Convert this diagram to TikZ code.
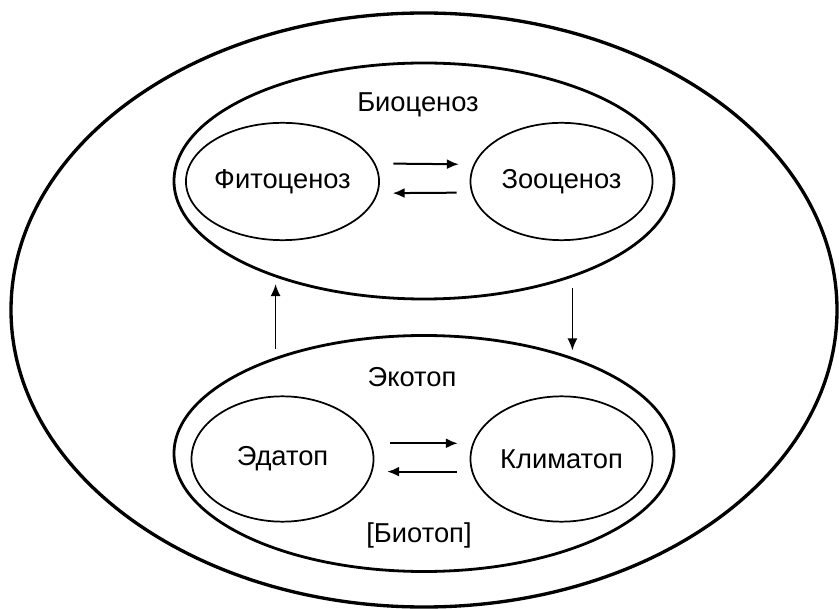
\documentclass[tikz,border=0pt]{standalone}
\usepackage{fontspec}
\setmainfont{Liberation Sans}
\usetikzlibrary{shapes.geometric,arrows.meta}
\tikzset{
  zone/.style={draw,ellipse,line width=2.1pt,inner sep=0pt,minimum width=375pt,minimum height=177pt},
  part/.style={draw,ellipse,line width=1.3pt,inner sep=0pt,minimum width=136.5pt},
  flow/.style={-{Latex[length=9pt,width=7.5pt]},line width=1.5pt},
}

\begin{document}
\begin{tikzpicture}[x=0.75pt,y=-0.75pt,font=\fontsize{20.5}{24}\selectfont]
  \useasboundingbox (0,0) rectangle (839,609);
  \node[draw,ellipse,line width=2.5pt,inner sep=0pt,minimum width=619.5pt,minimum height=445.5pt] (geo) at (424,310) {};

  \node[zone] (bio) at (424,181) {};
  \node (biolbl) at (418,105) {Биоценоз};
  \node[part,minimum height=88pt] (phyto) at (282.5,181.5) {Фитоценоз};
  \node[part,minimum height=88pt] (zoo) at (561.5,181.5) {Зооценоз};
  \draw[flow,shorten <=13.5pt,shorten >=11pt] (phyto.11) -- (zoo.169);
  \draw[flow,shorten <=11pt,shorten >=11pt] (zoo.187) -- (phyto.-7);

  \node[zone] (topo) at (424,453.5) {};
  \node (ecolbl) at (412,377) {Экотоп};
  \node[part,minimum height=94pt] (edaph) at (282.5,459) {Эдатоп};
  \node[part,minimum height=94pt] (clim) at (561.5,459) {Климатоп};
  \node (biotop) at (419,535) {[Биотоп]};
  \draw[flow,shorten <=13.5pt,shorten >=11pt] (edaph.10) -- (clim.170);
  \draw[flow,shorten <=11pt,shorten >=11pt] (clim.188) -- (edaph.-8);

  \draw[flow,line width=1.3pt,shorten <=6pt,shorten >=5pt] (topo.147) -- (topo.147 |- bio.213);
  \draw[flow,line width=1.3pt,shorten <=8pt,shorten >=5pt] (bio.-33) -- (bio.-33 |- topo.33);
\end{tikzpicture}
\end{document}
